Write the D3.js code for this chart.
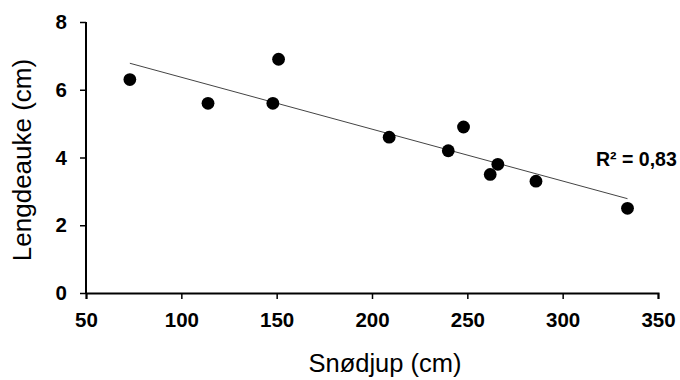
<!DOCTYPE html>
<html>
<head>
<meta charset="utf-8">
<script src="https://cdn.jsdelivr.net/npm/d3@7"></script>
<style>
  html, body { margin: 0; padding: 0; background: #fff; }
  svg { display: block; }
  text { font-family: "Liberation Sans", Arial, sans-serif; }
</style>
</head>
<body>
<svg id="chart" width="680" height="380"></svg>
<script>
const snowDepth = [73, 114, 148, 151, 209, 240, 248, 262, 266, 286, 334];
const shootLength = [6.3, 5.6, 5.6, 6.9, 4.6, 4.2, 4.9, 3.5, 3.8, 3.3, 2.5];
const xTicks = [50, 100, 150, 200, 250, 300, 350];
const yTicks = [0, 2, 4, 6, 8];
const xTitle = "Snødjup (cm)";
const yTitle = "Lengdeauke (cm)";
const r2Label = "R² = 0,83";

const svg = d3.select("#chart");
const x = d3.scaleLinear().domain([50, 350]).range([86, 658]);
const y = d3.scaleLinear().domain([0, 8]).range([293, 22]);

// axes
const xAxis = d3.axisBottom(x).tickValues(xTicks).tickSize(6).tickPadding(13).tickSizeOuter(6);
const yAxis = d3.axisLeft(y).tickValues(yTicks).tickSize(6).tickPadding(13).tickSizeOuter(0);

const gx = svg.append("g").attr("transform", `translate(0,${y(0)})`).call(xAxis);
const gy = svg.append("g").attr("transform", `translate(${x(50)},0)`).call(yAxis);

[gx, gy].forEach(g => {
  g.select(".domain").attr("stroke", "#000").attr("stroke-width", 2);
  g.selectAll(".tick line").attr("stroke", "#000").attr("stroke-width", 1.5);
  g.selectAll(".tick text")
    .attr("fill", "#000")
    .style("font-family", '"Liberation Sans", Arial, sans-serif')
    .style("font-size", "20.5px")
    .style("font-weight", "bold");
});
gy.select(".domain").attr("d", `M0,${y(8)}V${y(0)}`);

// regression line computed from the data
const mx = d3.mean(snowDepth), my = d3.mean(shootLength);
let sxy = 0, sxx = 0;
snowDepth.forEach((v, i) => { sxy += (v - mx) * (shootLength[i] - my); sxx += (v - mx) * (v - mx); });
const slope = sxy / sxx, icpt = my - slope * mx;
const x0 = d3.min(snowDepth), x1 = d3.max(snowDepth);
svg.append("line")
  .attr("x1", x(x0)).attr("y1", y(icpt + slope * x0))
  .attr("x2", x(x1)).attr("y2", y(icpt + slope * x1))
  .attr("stroke", "#444").attr("stroke-width", 1);

// points
svg.append("g").selectAll("circle")
  .data(snowDepth.map((v, i) => [v, shootLength[i]]))
  .join("circle")
  .attr("cx", d => x(d[0]))
  .attr("cy", d => y(d[1]))
  .attr("r", 6.4)
  .attr("fill", "#000");

// R² label
svg.append("text")
  .attr("x", 596).attr("y", 166)
  .style("font-size", "19.5px").style("font-weight", "bold")
  .attr("fill", "#000")
  .text(r2Label);

// axis titles
svg.append("text")
  .attr("x", 385).attr("y", 372)
  .attr("text-anchor", "middle")
  .style("font-size", "25.5px")
  .attr("fill", "#000")
  .text(xTitle);

svg.append("text")
  .attr("transform", "translate(31,160) rotate(-90)")
  .attr("text-anchor", "middle")
  .style("font-size", "26px")
  .attr("fill", "#000")
  .text(yTitle);
</script>
</body>
</html>
